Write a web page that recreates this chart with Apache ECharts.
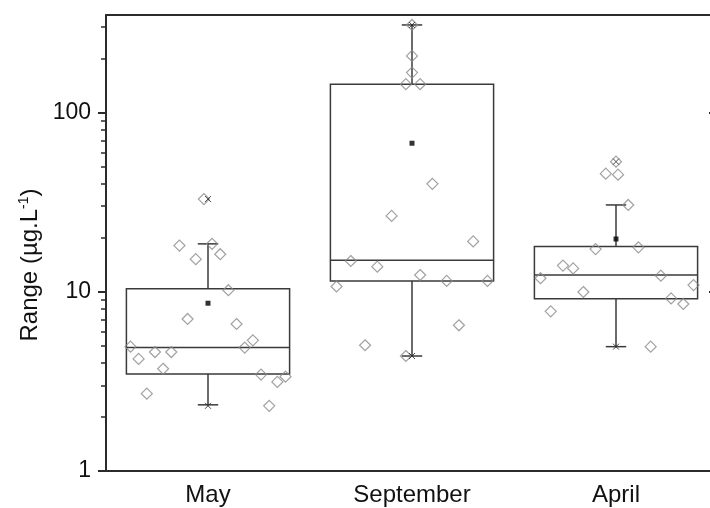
<!DOCTYPE html>
<html><head><meta charset="utf-8">
<script src="https://cdn.jsdelivr.net/npm/echarts@6/dist/echarts.min.js"></script>
<style>html,body{margin:0;padding:0;background:#fff}#c{width:710px;height:508px}</style>
</head><body><div id="c"></div>
<script>
const categories = ['May', 'September', 'April'];
// [whisker low, Q1, median, Q3, whisker high]
const boxMay = [2.34, 3.48, 4.88, 10.4, 18.5];
const boxSeptember = [4.38, 11.5, 15.0, 144, 308];
const boxApril = [4.94, 9.15, 12.4, 17.9, 30.5];
const means = [8.63, 67.4, 19.7];
const maxima = [32.9, 308, 53.2];
const minima = [2.31, 4.38, 4.94];

const mayValues = [32.9, 18.1, 18.5, 15.2, 16.2, 10.2, 7.05, 6.61, 4.94, 4.22, 4.61, 4.61, 3.72, 4.88, 5.36, 3.45, 3.14, 3.36, 2.70, 2.31];
const mayJitter = [-0.02, -0.14, 0.02, -0.06, 0.06, 0.10, -0.10, 0.14, -0.38, -0.34, -0.26, -0.18, -0.22, 0.18, 0.22, 0.26, 0.34, 0.38, -0.30, 0.30];
const septemberValues = [308, 207, 167, 144, 144, 40.0, 26.5, 19.1, 14.85, 13.8, 12.4, 11.5, 11.5, 10.7, 6.5, 5.03, 4.38];
const septemberJitter = [0, 0, 0, -0.03, 0.04, 0.10, -0.10, 0.30, -0.30, -0.17, 0.04, 0.17, 0.37, -0.37, 0.23, -0.23, -0.03];
const aprilValues = [53.2, 45.6, 45.0, 30.5, 17.3, 17.7, 14.0, 13.5, 11.9, 12.3, 10.9, 9.97, 9.18, 8.55, 7.78, 4.94];
const aprilJitter = [0, -0.05, 0.01, 0.06, -0.10, 0.11, -0.26, -0.21, -0.37, 0.22, 0.38, -0.16, 0.27, 0.33, -0.32, 0.17];

const yMinorTicks = [2, 3, 4, 5, 6, 7, 8, 9, 20, 30, 40, 50, 60, 70, 80, 90, 200, 300];
const yTitle = 'Range (µg.L{sup|-1})';

const BOX_W = 0.8, CAP_W = 0.1;
const FONT = '"Liberation Sans", Arial, sans-serif';
const INK = '#2b2b2b';

const boxes = [boxMay, boxSeptember, boxApril].map((b, i) => [i].concat(b));
const diamonds = [];
[[mayValues, mayJitter], [septemberValues, septemberJitter], [aprilValues, aprilJitter]].forEach(([vals, jit], i) => {
  vals.forEach((v, k) => diamonds.push([i + jit[k], v]));
});

const chart = echarts.init(document.getElementById('c'), null, {renderer: 'canvas'});
const lineAxis = {show: true, onZero: false, lineStyle: {color: INK, width: 2}};
chart.setOption({
  animation: false,
  backgroundColor: '#fff',
  grid: {left: 106, top: 15, width: 612, height: 456, containLabel: false, outerBoundsMode: 'none'},
  xAxis: [
    {type: 'value', min: -0.5, max: 2.5, show: false},
    {type: 'category', data: categories, position: 'bottom', boundaryGap: true,
     axisLine: lineAxis,
     axisTick: {alignWithLabel: true, length: 7, lineStyle: {color: INK, width: 2}},
     axisLabel: {fontSize: 24, fontFamily: FONT, color: '#111', margin: 12},
     splitLine: {show: false}},
    {type: 'category', data: categories, position: 'top', boundaryGap: true,
     axisLine: lineAxis,
     axisTick: {alignWithLabel: true, inside: true, length: 8, lineStyle: {color: INK, width: 2}},
     axisLabel: {show: false}, splitLine: {show: false}}
  ],
  yAxis: [
    {type: 'log', logBase: 10, min: 1, max: 350, position: 'left',
     axisLine: lineAxis,
     axisTick: {length: 8, lineStyle: {color: INK, width: 2}},
     axisLabel: {fontSize: 23, fontFamily: FONT, color: '#111', margin: 15, showMaxLabel: false},
     splitLine: {show: false}, minorTick: {show: false}},
    {type: 'log', logBase: 10, min: 1, max: 350, position: 'left',
     axisLine: {show: false, onZero: false},
     axisTick: {length: 5, customValues: yMinorTicks, lineStyle: {color: INK, width: 1.5}},
     axisLabel: {show: false}, splitLine: {show: false}},
    {type: 'log', logBase: 10, min: 1, max: 350, position: 'right',
     axisLine: lineAxis,
     axisTick: {inside: true, length: 9, lineStyle: {color: INK, width: 2}},
     axisLabel: {show: false}, splitLine: {show: false}}
  ],
  graphic: [{
    type: 'text', x: 30, y: 265, rotation: Math.PI / 2,
    style: {text: yTitle, font: '24px ' + FONT, fill: '#111', align: 'center', verticalAlign: 'middle',
      rich: {sup: {fontSize: 14, fontFamily: FONT, fill: '#111', verticalAlign: 'top', padding: [0, 0, 12, 0]}}}
  }],
  series: [
    {type: 'custom', xAxisIndex: 0, yAxisIndex: 0, data: boxes,
     encode: {x: 0, y: [1, 2, 3, 4, 5]}, z: 2,
     renderItem: function (params, api) {
       const i = api.value(0);
       const lo = api.coord([i, api.value(1)]);
       const q1 = api.coord([i, api.value(2)]);
       const med = api.coord([i, api.value(3)]);
       const q3 = api.coord([i, api.value(4)]);
       const hi = api.coord([i, api.value(5)]);
       const left = api.coord([i - BOX_W / 2, api.value(3)])[0];
       const right = api.coord([i + BOX_W / 2, api.value(3)])[0];
       const cl = api.coord([i - CAP_W / 2, api.value(3)])[0];
       const cr = api.coord([i + CAP_W / 2, api.value(3)])[0];
       const x = med[0];
       const st = {stroke: '#3a3a3a', lineWidth: 1.5, fill: 'none'};
       return {type: 'group', children: [
         {type: 'rect', shape: {x: left, y: q3[1], width: right - left, height: q1[1] - q3[1]}, style: st},
         {type: 'line', shape: {x1: left, y1: med[1], x2: right, y2: med[1]}, style: st},
         {type: 'line', shape: {x1: x, y1: q3[1], x2: x, y2: hi[1]}, style: st},
         {type: 'line', shape: {x1: x, y1: q1[1], x2: x, y2: lo[1]}, style: st},
         {type: 'line', shape: {x1: cl, y1: hi[1], x2: cr, y2: hi[1]}, style: st},
         {type: 'line', shape: {x1: cl, y1: lo[1], x2: cr, y2: lo[1]}, style: st}
       ]};
     }},
    {type: 'scatter', xAxisIndex: 0, yAxisIndex: 0, data: diamonds, z: 3,
     symbol: 'diamond', symbolSize: 11,
     itemStyle: {color: 'rgba(255,255,255,0)', borderColor: '#8a8a8a', borderWidth: 1.2}},
    {type: 'scatter', xAxisIndex: 0, yAxisIndex: 0, z: 4,
     data: means.map((v, i) => [i, v]), symbol: 'rect', symbolSize: 5,
     itemStyle: {color: '#000'}},
    {type: 'scatter', xAxisIndex: 0, yAxisIndex: 0, z: 4,
     data: maxima.map((v, i) => [i, v]).concat(minima.map((v, i) => [i, v])),
     symbol: 'path://M0,0L10,10M10,0L0,10', symbolSize: 6,
     itemStyle: {color: 'none', borderColor: '#222', borderWidth: 1}}
  ]
});
</script></body></html>
